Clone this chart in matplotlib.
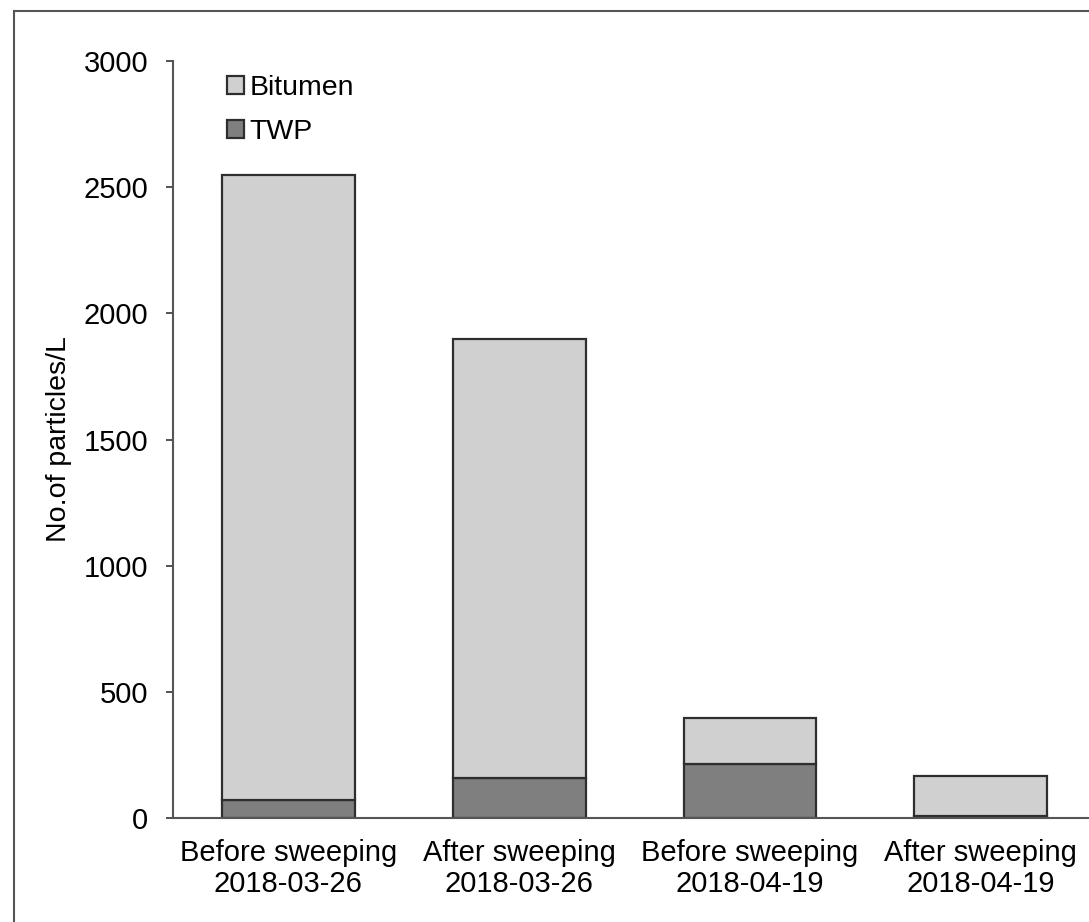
import matplotlib
matplotlib.use("Agg")
import matplotlib.pyplot as plt
from matplotlib.patches import Rectangle

plt.rcParams['font.family'] = ['Liberation Sans', 'DejaVu Sans']

categories = ["Before sweeping\n2018-03-26", "After sweeping\n2018-03-26",
              "Before sweeping\n2018-04-19", "After sweeping\n2018-04-19"]
twp = [70, 160, 215, 6]
bitumen = [2480, 1740, 180, 160]   # stacked on top of TWP

fig = plt.figure(figsize=(10.89, 9.22), dpi=100)
ax = fig.add_axes([0.1589, 0.1128, 0.8476, 0.821])

x = list(range(len(categories)))
ax.bar(x, twp, width=0.575, color='#7f7f7f', edgecolor='#2e2e2e', linewidth=1.6, label='TWP')
ax.bar(x, bitumen, width=0.575, bottom=twp, color='#d0d0d0', edgecolor='#2e2e2e', linewidth=1.6, label='Bitumen')

ax.set_xlim(-0.5, 3.5)
ax.set_ylim(0, 3000)
ax.set_yticks([0, 500, 1000, 1500, 2000, 2500, 3000])
ax.set_xticks(x)
ax.set_xticklabels(categories, fontsize=21, linespacing=1.15)
ax.tick_params(axis='y', labelsize=21, length=5, width=1.3, color='#444444', pad=13)
ax.tick_params(axis='x', length=0, pad=15)
ax.set_ylabel('No.of particles/L', fontsize=20.5, labelpad=8)

for s in ['top', 'right']:
    ax.spines[s].set_visible(False)
for s in ['left', 'bottom']:
    ax.spines[s].set_color('#555555')
    ax.spines[s].set_linewidth(1.5)

h, l = ax.get_legend_handles_labels()
ax.legend(h[::-1], l[::-1], loc='upper left', bbox_to_anchor=(0.046, 0.996), frameon=False,
          fontsize=20.5, handlelength=0.6, handleheight=0.6, handletextpad=0.2,
          labelspacing=0.62, borderaxespad=0)

# outer frame of the picture
fig.patches.append(Rectangle((14 / 1089, -0.1), 1.2, 1.1 - 11 / 922,
                             transform=fig.transFigure, fill=False,
                             edgecolor='#555555', linewidth=1.5))

fig.savefig('out.png', dpi=100)
